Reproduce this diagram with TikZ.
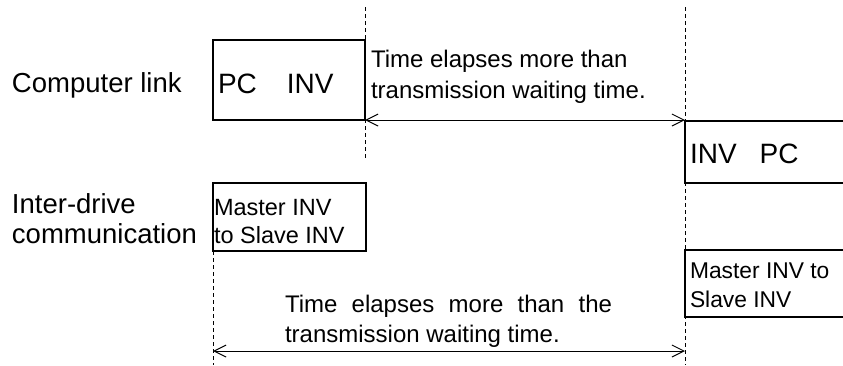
\documentclass[tikz,border=0pt]{standalone}
\usepackage{fontspec}
\setmainfont{Liberation Sans}
\usetikzlibrary{arrows.meta}
\begin{document}
\begin{tikzpicture}[x=1pt,y=-1pt,
  box/.style={draw=black, line width=2pt, inner sep=0pt, outer sep=0pt, anchor=north west},
  guide/.style={draw=black, line width=1pt, dash pattern=on 4pt off 3pt},
  span/.style={draw=black, line width=1pt, {Straight Barb[length=12pt,width=12pt]}-{Straight Barb[length=12pt,width=12pt]}},
  lbl/.style={anchor=base west, inner sep=0pt, outer sep=0pt, align=left},
  big/.style={font=\fontsize{27.5}{30}\selectfont},
  mid/.style={font=\fontsize{24}{31}\selectfont},
]
\useasboundingbox (0,0) rectangle (843,365);
% boxes
\node[box, minimum width=152pt, minimum height=80pt] (b1) at (213,40) {};
\node[box, minimum width=165pt, minimum height=62pt] (b2) at (685,121) {};
\node[box, minimum width=153pt, minimum height=68pt] (b3) at (213,183) {};
\node[box, minimum width=165pt, minimum height=67pt] (b4) at (685,250) {};
% guides
\draw[guide] ([yshift=33pt]b1.north east) -- ([yshift=-40pt]b1.south east);
\draw[guide] ([yshift=114pt]b2.north west) -- ([yshift=-48pt]b4.south west);
\draw[guide] (b3.south west) -- ([yshift=-114pt]b3.south west);
% redraw box edges over guides
\draw[line width=2pt] (b2.north east) -- (b2.north west) -- (b2.south west) -- (b2.south east);
\draw[line width=2pt] (b4.north east) -- (b4.north west) -- (b4.south west) -- (b4.south east);
% spans
\coordinate (s1a) at (b1.south east);
\coordinate (s1b) at (b1.south east -| b2.west);
\draw[span] (s1a) -- (s1b);
\coordinate (s2a) at ([yshift=-100pt]b3.south west);
\coordinate (s2b) at (s2a -| b4.west);
\draw[span] (s2a) -- (s2b);
% labels (base = baseline of the last line)
\node[lbl, big] (cl) at (12,92) {Computer link};
\node[lbl, big] (id) at (12,243) {Inter-drive\\communication};
\node[lbl, font=\fontsize{28}{30}\selectfont] (t1) at (218,93) {PC\hspace{30pt}INV};
\node[lbl, font=\fontsize{28}{30}\selectfont] (t2) at (690,163) {INV\hspace{23pt}PC};
\node[lbl, font=\fontsize{23.5}{28}\selectfont] (t3) at (214,243) {Master INV\\to Slave INV};
\node[lbl, font=\fontsize{22.8}{29}\selectfont] (t4) at (690,307) {Master INV to\\Slave INV};
\node[lbl, mid] (w1) at (371,98) {Time elapses more than\\transmission waiting time.};
\node[lbl, font=\fontsize{24}{30}\selectfont] (w2) at (285,342) {\makebox[327pt][s]{Time elapses more than the}\\transmission waiting time.};
\end{tikzpicture}
\end{document}
